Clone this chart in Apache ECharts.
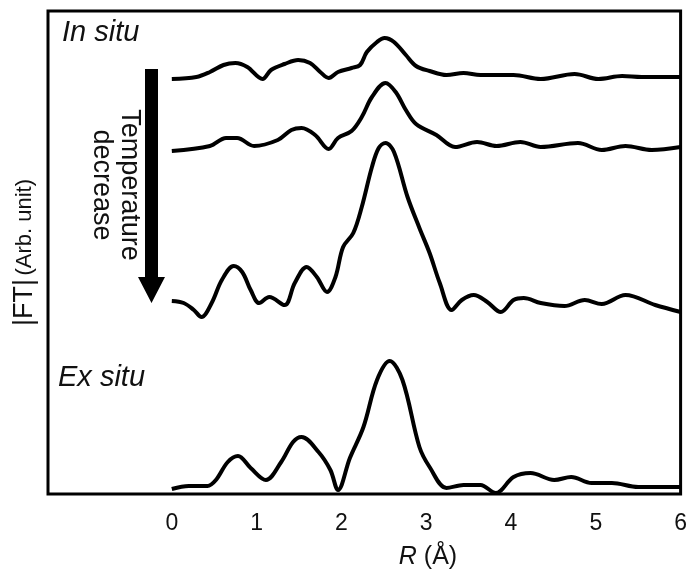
<!DOCTYPE html>
<html>
<head>
<meta charset="utf-8">
<script src="https://cdn.jsdelivr.net/npm/echarts@6/dist/echarts.min.js"></script>
<style>
  html, body { margin: 0; padding: 0; background: #fff; }
  #chart { width: 690px; height: 573px; }
</style>
</head>
<body>
<div id="chart"></div>
<script>
	// tick labels along R
	var tickLabels = [0, 1, 2, 3, 4, 5, 6];

	// In situ, highest temperature (top trace)
	var rA = [0, 0.29, 0.45, 0.61, 0.75, 0.89, 1.07, 1.17, 1.33, 1.49, 1.63, 1.75, 1.85, 1.96, 2.12, 2.22, 2.30, 2.42, 2.51, 2.62, 2.76, 2.88, 3.04, 3.24, 3.44, 3.64, 4.03, 4.35, 4.75, 5.03, 5.31, 5.54, 6.0];
	var fA = [415, 417, 422, 429, 431, 427, 415, 424, 430, 434, 431, 422, 416, 422, 426, 429, 442, 452, 456, 452, 439, 428, 423, 419, 421, 419, 419, 415, 420, 415, 418, 417, 417];

	// In situ, second trace
	var rB = [0, 0.45, 0.64, 0.77, 0.97, 1.25, 1.41, 1.53, 1.69, 1.85, 1.96, 2.12, 2.24, 2.36, 2.52, 2.64, 2.76, 2.88, 3.12, 3.34, 3.60, 3.83, 4.11, 4.35, 4.79, 5.07, 5.35, 5.66, 6.0];
	var fB = [343, 348, 356, 356, 348, 354, 364, 366, 359, 345, 356, 363, 377, 397, 411, 402, 384, 370, 359, 347, 352, 348, 352, 347, 351, 344, 348, 344, 347];

	// In situ, lowest temperature
	var rC = [0, 0.14, 0.26, 0.35, 0.47, 0.59, 0.73, 0.83, 0.93, 1.03, 1.15, 1.33, 1.45, 1.59, 1.71, 1.83, 1.93, 2.02, 2.14, 2.24, 2.36, 2.44, 2.52, 2.62, 2.78, 2.92, 3.04, 3.16, 3.30, 3.42, 3.56, 3.72, 3.88, 4.03, 4.15, 4.35, 4.63, 4.87, 5.07, 5.35, 5.70, 6.0];
	var fC = [193, 191, 184, 177, 191, 214, 228, 222, 204, 191, 197, 189, 211, 227, 217, 202, 217, 247, 261, 287, 327, 346, 351, 342, 297, 266, 241, 211, 184, 194, 199, 192, 182, 194, 196, 191, 188, 194, 190, 199, 189, 182];

	// Ex situ
	var rD = [0, 0.2, 0.42, 0.52, 0.66, 0.78, 0.93, 1.11, 1.29, 1.43, 1.53, 1.73, 1.87, 1.96, 2.10, 2.26, 2.42, 2.57, 2.72, 2.92, 3.04, 3.24, 3.44, 3.64, 3.82, 4.03, 4.23, 4.51, 4.71, 4.95, 5.19, 5.50, 5.70, 6.0];
	var fD = [5, 8, 8, 14, 32, 38, 26, 14, 32, 52, 57, 42, 24, 4, 36, 67, 114, 133, 114, 47, 27, 6, 9, 9, 1, 17, 21, 14, 17, 11, 11, 7, 7, 7];

	function pairs(r, f) {
		var out = [];
		for (var i = 0; i < r.length; i++) out.push([r[i], f[i]]);
		return out;
	}

	function trace(r, f) {
		return {
			type: 'line',
			data: pairs(r, f),
			smooth: 0.35,
			showSymbol: false,
			silent: true,
			lineStyle: { color: '#000', width: 4 }
		};
	}

	var font = 'Liberation Sans, Arial, sans-serif';

	var myChart = echarts.init(document.getElementById('chart'));
	var option = {
		animation: false,
		backgroundColor: '#fff',
		grid: {
			left: 48, right: 8, top: 11, bottom: 79,
			show: true, borderColor: '#000', borderWidth: 3
		},
		xAxis: {
			type: 'value',
			min: -1.46,
			max: 6,
			axisLine: { show: false },
			axisTick: { show: false },
			splitLine: { show: false },
			axisLabel: {
				customValues: tickLabels,
				color: '#111',
				fontSize: 23,
				fontFamily: font,
				margin: 18
			}
		},
		yAxis: {
			type: 'value',
			min: 0,
			max: 483,
			axisLine: { show: false },
			axisTick: { show: false },
			splitLine: { show: false },
			axisLabel: { show: false },
			name: '{a||FT|} {b|(Arb. unit)}',
			nameLocation: 'middle',
			nameGap: 10,
			nameTextStyle: {
				rich: {
					a: { fontSize: 27, color: '#111', fontFamily: font },
					b: { fontSize: 22, color: '#111', fontFamily: font }
				}
			}
		},
		graphic: [
			{
				type: 'polygon',
				shape: { points: [[145, 69], [158, 69], [158, 277], [165, 277], [151.5, 303], [138, 277], [145, 277]] },
				style: { fill: '#000' }
			},
			{
				type: 'text',
				x: 115, y: 185,
				rotation: -Math.PI / 2,
				style: {
					text: 'Temperature\ndecrease',
					fontSize: 27, fontFamily: font, fill: '#111',
					align: 'center', verticalAlign: 'middle', lineHeight: 28
				}
			},
			{
				type: 'text', x: 62, y: 33,
				style: { text: 'In situ', fontSize: 29, fontStyle: 'italic', fontFamily: font, fill: '#111', verticalAlign: 'middle' }
			},
			{
				type: 'text', x: 58, y: 378,
				style: { text: 'Ex situ', fontSize: 29, fontStyle: 'italic', fontFamily: font, fill: '#111', verticalAlign: 'middle' }
			},
			{
				type: 'text', x: 428, y: 557,
				style: {
					text: '{i|R} (Å)',
					align: 'center', verticalAlign: 'middle',
					fontSize: 25, fontFamily: font, fill: '#111',
					rich: { i: { fontStyle: 'italic', fontSize: 25, fontFamily: font, fill: '#111' } }
				}
			}
		],
		series: [trace(rA, fA), trace(rB, fB), trace(rC, fC), trace(rD, fD)]
	};
	myChart.setOption(option);
</script>
</body>
</html>
